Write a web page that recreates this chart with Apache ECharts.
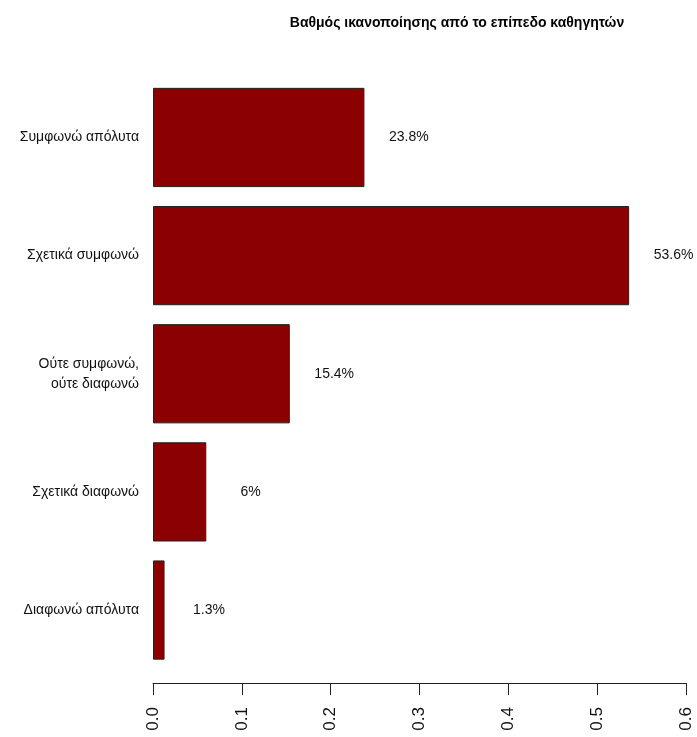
<!DOCTYPE html>
<html><head><meta charset="utf-8">
<script src="https://cdn.jsdelivr.net/npm/echarts@6/dist/echarts.min.js"></script>
<style>html,body{margin:0;padding:0;background:#fff}#c{width:697px;height:737px}</style>
</head><body><div id="c"></div>
<script>
var titleText = 'Βαθμός ικανοποίησης από το επίπεδο καθηγητών';
// bottom-to-top order
var categories = ['Διαφωνώ απόλυτα', 'Σχετικά διαφωνώ', 'Ούτε συμφωνώ,\nούτε διαφωνώ', 'Σχετικά συμφωνώ', 'Συμφωνώ απόλυτα'];
var values = [0.013, 0.06, 0.154, 0.536, 0.238];
var valueLabels = ['1.3%', '6%', '15.4%', '53.6%', '23.8%'];
var xTicks = [0, 0.1, 0.2, 0.3, 0.4, 0.5, 0.6];

var chart = echarts.init(document.getElementById('c'), null, {renderer: 'canvas'});
var font = 'Liberation Sans, Arial, sans-serif';
chart.setOption({
  animation: false,
  backgroundColor: '#ffffff',
  title: {
    text: titleText, left: 452, top: 11, textAlign: 'center',
    textStyle: {fontFamily: font, fontSize: 14, fontWeight: 'bold', color: '#000'}
  },
  grid: {left: 153, right: 11, top: 78.4, bottom: 737 - 669.1},
  xAxis: {
    type: 'value', min: 0, max: 0.6, interval: 0.1, offset: 14,
    splitLine: {show: false},
    axisLine: {show: true, lineStyle: {color: '#222', width: 1}},
    axisTick: {show: true, length: 12, lineStyle: {color: '#222'}},
    axisLabel: {
      rotate: 90, margin: 24, fontFamily: font, fontSize: 17, color: '#111',
      formatter: function (v) { return v.toFixed(1); }
    }
  },
  yAxis: {
    type: 'category', data: categories,
    axisLine: {show: false}, axisTick: {show: false},
    axisLabel: {margin: 14, fontFamily: font, fontSize: 14, color: '#111', lineHeight: 20, align: 'right'}
  },
  series: [{
    type: 'bar',
    data: values,
    barCategoryGap: '16%',
    itemStyle: {color: '#8B0000', borderColor: '#222', borderWidth: 1},
    label: {
      show: true, position: 'right', distance: 44.4, align: 'center',
      fontFamily: font, fontSize: 14, color: '#111',
      formatter: function (p) { return valueLabels[p.dataIndex]; }
    }
  }]
});
</script></body></html>
